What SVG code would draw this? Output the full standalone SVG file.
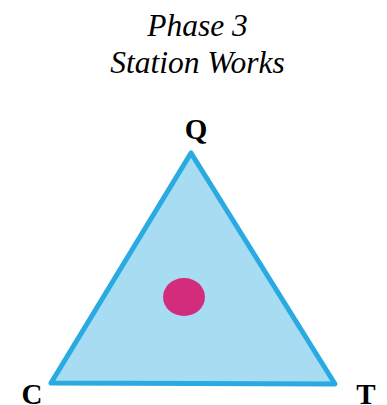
<svg xmlns="http://www.w3.org/2000/svg" width="387" height="405" viewBox="0 0 387 405">
<style>
.title{font-family:"Liberation Serif","Times New Roman",serif;font-style:italic;font-weight:normal;font-size:31.5px;fill:#000;text-anchor:middle}
.lbl{font-family:"Liberation Serif","Times New Roman",serif;font-weight:bold;font-size:29px;fill:#000;text-anchor:middle}
</style>
<rect width="387" height="405" fill="#fff"/>
<g id="title">
<text class="title" x="197.5" y="36">Phase 3</text>
<text class="title" x="197.5" y="73">Station Works</text>
</g>
<g id="triangle">
<polygon points="191,153 51,383 335,384" fill="#A8DCF2" stroke="#29ABE2" stroke-width="5" stroke-linejoin="round"/>
</g>
<g id="dot">
<ellipse cx="184" cy="297" rx="21" ry="19" fill="#D42C7D"/>
</g>
<g id="Q"><text class="lbl" x="196" y="139">Q</text></g>
<g id="C"><text class="lbl" x="32" y="404">C</text></g>
<g id="T"><text class="lbl" x="366" y="404">T</text></g>
</svg>
